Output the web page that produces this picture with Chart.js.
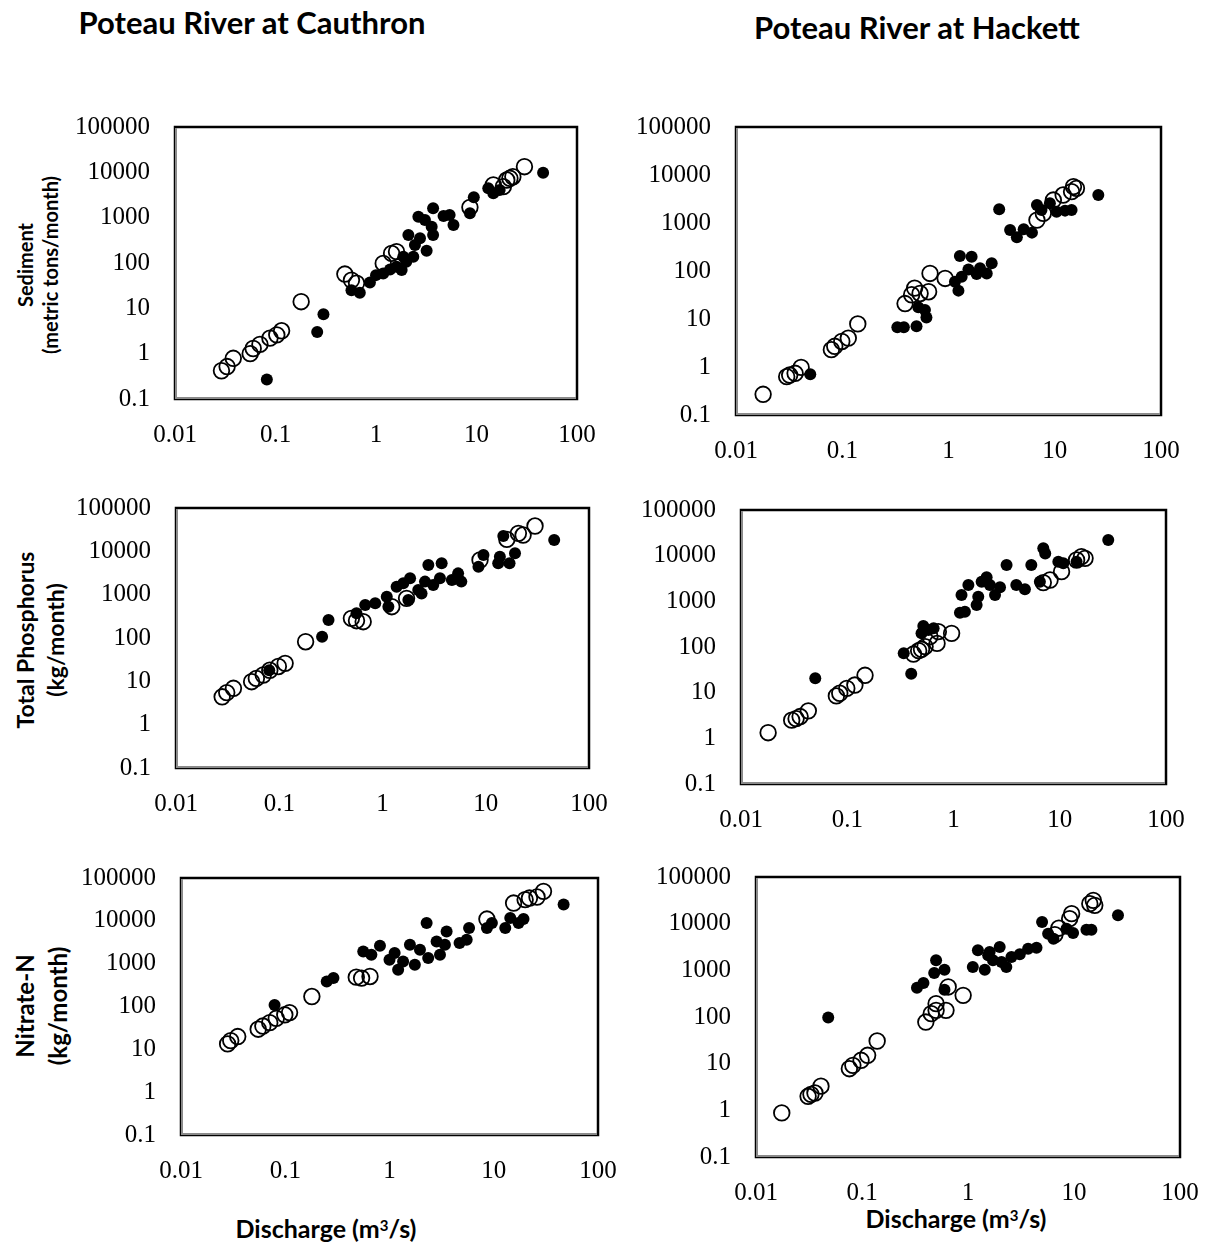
<!DOCTYPE html>
<html>
<head>
<meta charset="utf-8">
<script src="https://cdn.jsdelivr.net/npm/chart.js@4.4.1/dist/chart.umd.min.js"></script>
<style>
  body { margin: 0; background: #fff; width: 1209px; height: 1245px; position: relative; overflow: hidden; font-family: Lato, "Open Sans", sans-serif; }
  canvas { position: absolute; }
  .lbl { position: absolute; font-weight: bold; color: #000; white-space: nowrap; transform: translate(-50%, -50%); line-height: 1; }
  .ylbl { position: absolute; font-weight: bold; color: #000; white-space: nowrap; text-align: center; transform: translate(-50%, -50%) rotate(-90deg); }
  sup { font-size: 60%; vertical-align: 0.45em; line-height: 0; }
</style>
</head>
<body>

<div class="lbl" style="left:252px; top:22px; font-size:31px;">Poteau River at Cauthron</div>
<div class="lbl" style="left:917px; top:27px; font-size:31px;">Poteau River at Hackett</div>

<div class="ylbl" style="left:38px; top:265px; font-size:20px; line-height:25px;">Sediment<br>(metric tons/month)</div>
<div class="ylbl" style="left:40px; top:640px; font-size:23px; line-height:30px;">Total Phosphorus<br>(kg/month)</div>
<div class="ylbl" style="left:41px; top:1006px; font-size:24px; line-height:33px;">Nitrate-N<br>(kg/month)</div>

<div class="lbl" style="left:326px; top:1228px; font-size:25px;">Discharge (m<sup>3</sup>/s)</div>
<div class="lbl" style="left:956px; top:1218px; font-size:25px;">Discharge (m<sup>3</sup>/s)</div>

<canvas id="cSed"></canvas>
<canvas id="hSed"></canvas>
<canvas id="cTP"></canvas>
<canvas id="hTP"></canvas>
<canvas id="cNO3"></canvas>
<canvas id="hNO3"></canvas>

<script>
// axis ticks
const xTickValues = [0.01, 0.1, 1, 10, 100];
const xTickLabels = ['0.01', '0.1', '1', '10', '100'];
const yTickValues = [0.1, 1, 10, 100, 1000, 10000, 100000];
const yTickLabels = ['0.1', '1', '10', '100', '1000', '10000', '100000'];

// Cauthron sediment (metric tons/month) vs discharge (m3/s)
const cSedHollowQ = [0.029, 0.033, 0.038, 0.056, 0.060, 0.070, 0.088, 0.103, 0.115, 0.18, 0.49, 0.57, 0.64, 1.18, 1.43, 1.6, 8.6, 14.7, 18.5, 20, 21.5, 23, 30];
const cSedHollowLoad = [0.42, 0.52, 0.79, 1.0, 1.3, 1.6, 2.2, 2.6, 3.2, 14, 57, 42, 36, 98, 163, 178, 1690, 5260, 4830, 6770, 7380, 8000, 13300];
const cSedSolidQ = [0.082, 0.26, 0.30, 0.57, 0.69, 0.87, 1.0, 1.18, 1.38, 1.6, 1.8, 2.0, 1.87, 2.1, 2.35, 2.44, 2.74, 2.64, 3.07, 3.58, 3.7, 3.19, 3.7, 4.7, 5.4, 5.9, 8.6, 9.4, 13.1, 14.7, 17, 46];
const cSedSolidLoad = [0.27, 3.0, 7.4, 25, 22, 37, 54, 59, 72, 83, 70, 107, 138, 415, 138, 250, 350, 1050, 890, 632, 415, 187, 1610, 1090, 1150, 690, 1250, 2810, 4440, 3440, 4070, 9840];

// Hackett sediment
const hSedHollowQ = [0.018, 0.030, 0.032, 0.036, 0.041, 0.079, 0.085, 0.099, 0.114, 0.14, 0.39, 0.45, 0.48, 0.54, 0.65, 0.67, 0.93, 6.8, 7.8, 9.7, 12, 14.4, 15, 16];
const hSedHollowLoad = [0.27, 0.63, 0.68, 0.74, 0.98, 2.3, 2.7, 3.4, 4.0, 7.9, 21, 32, 44, 34, 37, 89, 70, 1150, 1590, 3010, 3830, 4500, 5720, 5270];
const hSedSolidQ = [0.050, 0.33, 0.38, 0.50, 0.62, 0.60, 0.52, 1.15, 1.24, 1.33, 1.28, 1.65, 1.54, 1.84, 1.98, 2.29, 2.55, 3.0, 3.8, 4.4, 5.1, 6.1, 6.8, 7.5, 9.0, 10.4, 12.5, 14.4, 25.7];
const hSedSolidLoad = [0.71, 6.7, 6.7, 7.1, 10.8, 15.4, 17.5, 60, 39, 76, 205, 199, 108, 87, 114, 89, 145, 1930, 715, 502, 738, 630, 2370, 1870, 2570, 1720, 1810, 1870, 3830];

// Cauthron total phosphorus (kg/month)
const cTPHollowQ = [0.028, 0.031, 0.036, 0.054, 0.060, 0.070, 0.081, 0.098, 0.114, 0.18, 0.50, 0.56, 0.65, 1.23, 1.71, 8.8, 16, 20.7, 23, 30];
const cTPHollowLoad = [4.4, 5.5, 6.9, 9.8, 11.7, 14, 18, 22, 26, 82, 284, 251, 238, 528, 822, 6310, 18900, 26000, 23800, 38400];
const cTPSolidQ = [0.08, 0.26, 0.30, 0.56, 0.68, 0.85, 1.1, 1.14, 1.37, 1.59, 1.85, 1.78, 2.22, 2.39, 2.58, 2.78, 3.1, 3.6, 3.74, 4.7, 5.4, 5.8, 8.5, 9.5, 13.2, 13.7, 17, 19.2, 14.8, 46];
const cTPSolidLoad = [18, 107, 260, 371, 578, 631, 900, 528, 1530, 1830, 2380, 753, 1280, 1070, 2000, 4840, 1670, 2380, 5290, 2180, 3100, 2000, 4430, 8220, 5290, 7540, 5290, 9000, 22600, 18300];

// Hackett total phosphorus
const hTPHollowQ = [0.018, 0.030, 0.033, 0.036, 0.043, 0.079, 0.085, 0.099, 0.118, 0.147, 0.42, 0.47, 0.50, 0.54, 0.60, 0.70, 0.72, 0.96, 7.0, 8.1, 10.4, 14.4, 16, 17.3];
const hTPHollowLoad = [1.33, 2.5, 2.7, 3.0, 4.0, 8.5, 9.7, 12.4, 14.7, 24, 70, 83, 89, 102, 168, 120, 217, 199, 2570, 2930, 4470, 8040, 9500, 8740];
const hTPSolidQ = [0.050, 0.40, 0.34, 0.52, 0.50, 0.58, 0.65, 1.15, 1.28, 1.19, 1.38, 1.65, 1.71, 1.84, 2.05, 2.2, 2.46, 2.74, 3.16, 3.9, 4.7, 5.4, 7.0, 7.3, 6.5, 9.7, 10.8, 14.4, 28.6];
const hTPSolidLoad = [20.6, 26, 73, 288, 199, 236, 256, 565, 594, 1380, 2280, 832, 1260, 2700, 3360, 2280, 1380, 2030, 6250, 2280, 1830, 6250, 14500, 11200, 2700, 7400, 6800, 7400, 22000];

// Cauthron nitrate-N (kg/month)
const cNHollowQ = [0.028, 0.030, 0.035, 0.055, 0.061, 0.071, 0.082, 0.099, 0.110, 0.18, 0.48, 0.54, 0.65, 8.6, 15.5, 20, 22, 26, 30];
const cNHollowLoad = [13.4, 16, 19.9, 29.5, 35, 42, 53, 64, 72, 171, 485, 460, 502, 11000, 26000, 31200, 34000, 36000, 48800];
const cNSolidQ = [0.079, 0.25, 0.29, 0.56, 0.67, 0.81, 1.0, 1.12, 1.21, 1.35, 1.57, 1.75, 1.96, 2.27, 2.35, 2.83, 3.05, 3.53, 3.4, 4.7, 5.5, 5.8, 8.6, 9.6, 12.9, 14.4, 17.3, 19.3, 46.8];
const cNSolidLoad = [109, 383, 460, 1930, 1610, 2620, 1230, 1770, 720, 1130, 2770, 940, 2110, 8870, 1350, 3300, 1610, 5660, 2770, 3020, 3620, 6780, 6780, 8870, 6780, 11600, 8870, 11000, 24000];

// Hackett nitrate-N
const hNHollowQ = [0.0175, 0.031, 0.033, 0.036, 0.041, 0.076, 0.082, 0.098, 0.113, 0.139, 0.40, 0.45, 0.50, 0.50, 0.62, 0.65, 0.90, 6.6, 7.2, 9.1, 9.5, 14.1, 15.2, 15.7];
const hNHollowLoad = [0.88, 2.0, 2.2, 2.35, 3.3, 7.8, 9.2, 11.8, 15.1, 30.6, 78, 118, 139, 193, 139, 440, 291, 5800, 8000, 12800, 16400, 26800, 31600, 24700];
const hNSolidQ = [0.048, 0.33, 0.38, 0.48, 0.50, 0.60, 0.60, 1.11, 1.24, 1.44, 1.55, 1.6, 1.72, 1.99, 2.07, 2.3, 2.57, 3.08, 3.69, 4.43, 5.0, 5.7, 6.4, 8.5, 9.8, 13.1, 14.6, 26];
const hNSolidLoad = [97, 425, 535, 877, 1640, 1030, 385, 1180, 2680, 1030, 2100, 2470, 1640, 3160, 1510, 1180, 1930, 2200, 2910, 3060, 10900, 6100, 4770, 7810, 6310, 7440, 7440, 15100];

const LEFT = 170, TOP = 15, RIGHT = 30, BOTTOM = 60;

// plot frame: black top/right, grey axis lines left/bottom
const framePlugin = {
  id: 'frame',
  beforeDatasetsDraw(chart) {
    const ctx = chart.ctx, a = chart.chartArea;
    ctx.save();
    ctx.strokeStyle = '#000';
    ctx.lineWidth = 2.5;
    ctx.strokeRect(a.left, a.top, a.right - a.left, a.bottom - a.top);
    ctx.strokeStyle = '#8a8a8a';
    ctx.lineWidth = 2;
    ctx.beginPath();
    ctx.moveTo(a.left + 1, a.top + 1);
    ctx.lineTo(a.left + 1, a.bottom - 1);
    ctx.lineTo(a.right - 1, a.bottom - 1);
    ctx.stroke();
    ctx.restore();
  }
};

function pts(xs, ys) {
  return xs.map((x, i) => ({ x: x, y: ys[i] }));
}

function makePanel(id, box, hollowQ, hollowLoad, solidQ, solidLoad) {
  const cv = document.getElementById(id);
  const w = (box.r - box.l) + LEFT + RIGHT;
  const h = (box.b - box.t) + TOP + BOTTOM;
  cv.width = w; cv.height = h;
  cv.style.left = (box.l - LEFT) + 'px';
  cv.style.top = (box.t - TOP) + 'px';
  cv.style.width = w + 'px';
  cv.style.height = h + 'px';

  const tickFont = { family: '"Liberation Serif", "Times New Roman", serif', size: 25 };

  new Chart(cv, {
    type: 'scatter',
    data: {
      datasets: [
        {
          label: 'solid',
          data: pts(solidQ, solidLoad),
          pointRadius: 6,
          pointBackgroundColor: '#000',
          pointBorderColor: '#000',
          pointBorderWidth: 0
        },
        {
          label: 'hollow',
          data: pts(hollowQ, hollowLoad),
          pointRadius: 7.8,
          pointBackgroundColor: 'rgba(0,0,0,0)',
          pointBorderColor: '#000',
          pointBorderWidth: 1.8
        }
      ]
    },
    options: {
      responsive: false,
      animation: false,
      layout: { padding: { top: TOP, right: RIGHT, left: 0, bottom: 0 } },
      plugins: { legend: { display: false }, tooltip: { enabled: false } },
      scales: {
        x: {
          type: 'logarithmic',
          min: 0.01, max: 100,
          grid: { display: false, drawTicks: false },
          border: { display: false },
          afterBuildTicks: s => { s.ticks = xTickValues.map(v => ({ value: v })); },
          afterFit: s => { s.height = BOTTOM; s.paddingLeft = 0; s.paddingRight = 0; },
          ticks: {
            autoSkip: false, maxRotation: 0, padding: 21,
            color: '#000', font: tickFont,
            callback: (v, i) => xTickLabels[i]
          }
        },
        y: {
          type: 'logarithmic',
          min: 0.1, max: 100000,
          grid: { display: false, drawTicks: false },
          border: { display: false },
          afterBuildTicks: s => { s.ticks = yTickValues.map(v => ({ value: v })); },
          afterFit: s => { s.width = LEFT; s.paddingTop = 0; s.paddingBottom = 0; },
          ticks: {
            autoSkip: false, padding: 25,
            color: '#000', font: tickFont,
            callback: (v, i) => yTickLabels[i]
          }
        }
      }
    },
    plugins: [framePlugin]
  });
}

makePanel('cSed', { l: 175, t: 127, r: 577, b: 399 }, cSedHollowQ, cSedHollowLoad, cSedSolidQ, cSedSolidLoad);
makePanel('hSed', { l: 736, t: 127, r: 1161, b: 415 }, hSedHollowQ, hSedHollowLoad, hSedSolidQ, hSedSolidLoad);
makePanel('cTP', { l: 176, t: 508, r: 589, b: 768 }, cTPHollowQ, cTPHollowLoad, cTPSolidQ, cTPSolidLoad);
makePanel('hTP', { l: 741, t: 510, r: 1166, b: 784 }, hTPHollowQ, hTPHollowLoad, hTPSolidQ, hTPSolidLoad);
makePanel('cNO3', { l: 181, t: 878, r: 598, b: 1135 }, cNHollowQ, cNHollowLoad, cNSolidQ, cNSolidLoad);
makePanel('hNO3', { l: 756, t: 877, r: 1180, b: 1157 }, hNHollowQ, hNHollowLoad, hNSolidQ, hNSolidLoad);
</script>
</body>
</html>
